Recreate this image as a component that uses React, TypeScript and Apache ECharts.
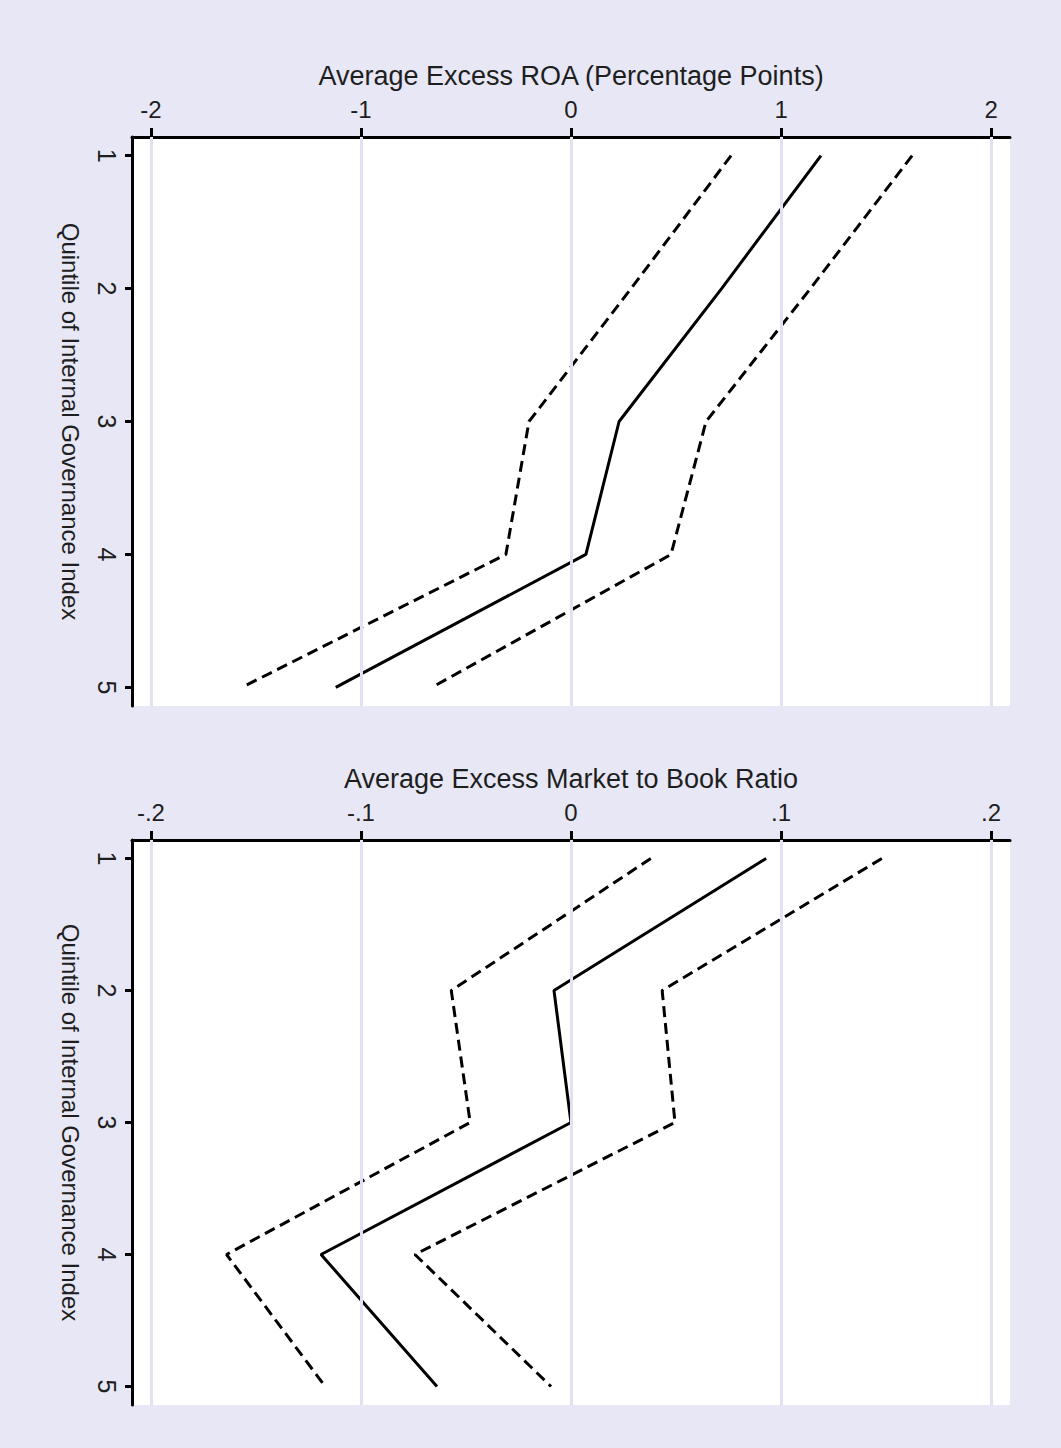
import React, { useEffect, useRef } from "react";
import * as echarts from "echarts";

// ---- data ----
const quintiles = [1, 2, 3, 4, 5];

// Panel 1: Average Excess ROA (percentage points)
const roaEstimate = [1.19, 0.717, 0.229, 0.071, -1.12];
const roaLower = [0.762, 0.286, -0.2, -0.31, -1.567];
const roaUpper = [1.624, 1.14, 0.643, 0.476, -0.662];
const roaTicks = [-2, -1, 0, 1, 2];
const roaTickLabels = ["-2", "-1", "0", "1", "2"];

// Panel 2: Average Excess Market to Book Ratio
const mtbEstimate = [0.0929, -0.0081, 0.0, -0.119, -0.0638];
const mtbLower = [0.038, -0.057, -0.048, -0.164, -0.117];
const mtbUpper = [0.148, 0.0434, 0.0495, -0.0743, -0.0095];
const mtbTicks = [-0.2, -0.1, 0, 0.1, 0.2];
const mtbTickLabels = ["-.2", "-.1", "0", ".1", ".2"];

const yTickLabels = ["1", "2", "3", "4", "5"];

const xTitles = [
  "Average Excess ROA (Percentage Points)",
  "Average Excess Market to Book Ratio",
];
const yTitle = "Quintile of Internal Governance Index";

const FONT = "'Liberation Sans', Arial, Helvetica, sans-serif";
const TEXT = "#1e1e1e";
const BG = "#e7e7f5";
const GRIDLINE = "#e1e1f3";

function pairs(xs: number[]) {
  return xs.map((x, i) => [x, quintiles[i]]);
}

function labelFor(ticks: number[], labels: string[]) {
  return (v: number) => {
    for (let i = 0; i < ticks.length; i++) {
      if (Math.abs(ticks[i] - v) < 1e-9) return labels[i];
    }
    return "";
  };
}

export default function App() {
  const ref = useRef<HTMLDivElement>(null);

  useEffect(() => {
    document.body.style.margin = "0";
    document.body.style.background = BG;
    if (!ref.current) return;
    const chart = echarts.init(ref.current, undefined, { renderer: "svg" });

    const grids = [
      { left: 132, right: 51, top: 137, height: 569 },
      { left: 132, right: 51, top: 840, height: 565 },
    ];
    const panels = [
      {
        ticks: roaTicks,
        labels: roaTickLabels,
        range: 2.09,
        est: roaEstimate,
        lo: roaLower,
        hi: roaUpper,
      },
      {
        ticks: mtbTicks,
        labels: mtbTickLabels,
        range: 0.209,
        est: mtbEstimate,
        lo: mtbLower,
        hi: mtbUpper,
      },
    ];

    const axisLineStyle = { color: "#000", width: 3 };

    const xAxis = panels.map((p, i) => ({
      gridIndex: i,
      type: "value",
      position: "top",
      min: -p.range,
      max: p.range,
      name: xTitles[i],
      nameLocation: "middle",
      nameGap: 48,
      nameTextStyle: { fontSize: 27, color: TEXT, fontFamily: FONT },
      axisLine: { show: true, onZero: false, lineStyle: axisLineStyle },
      axisTick: {
        show: true,
        inside: false,
        length: 9,
        lineStyle: axisLineStyle,
        customValues: p.ticks,
      },
      axisLabel: {
        customValues: p.ticks,
        formatter: labelFor(p.ticks, p.labels),
        fontSize: 24,
        margin: 16,
        color: TEXT,
        fontFamily: FONT,
      },
      splitLine: { show: false },
    }));

    const yAxis = panels.map((_, i) => ({
      gridIndex: i,
      type: "value",
      inverse: true,
      min: 0.86,
      max: 5.14,
      name: yTitle,
      nameLocation: "middle",
      nameRotate: -90,
      nameGap: 50,
      nameTextStyle: { fontSize: 24, color: TEXT, fontFamily: FONT },
      axisLine: { show: true, onZero: false, lineStyle: axisLineStyle },
      axisTick: {
        show: true,
        inside: false,
        length: 7,
        lineStyle: axisLineStyle,
        customValues: quintiles,
      },
      axisLabel: {
        customValues: quintiles,
        formatter: labelFor(quintiles, yTickLabels),
        rotate: -90,
        fontSize: 25,
        margin: 13,
        color: TEXT,
        fontFamily: FONT,
      },
      splitLine: { show: false },
    }));

    const series: any[] = [];
    panels.forEach((p, i) => {
      // vertical grid lines at the tick values
      series.push({
        type: "line",
        xAxisIndex: i,
        yAxisIndex: i,
        data: pairs(p.est),
        symbol: "none",
        lineStyle: { opacity: 0 },
        silent: true,
        z: 1,
        markLine: {
          silent: true,
          symbol: ["none", "none"],
          label: { show: false },
          lineStyle: { color: GRIDLINE, width: 3, type: "solid" },
          data: p.ticks.map((v) => ({ xAxis: v })),
        },
      });
      const lines: [number[], any][] = [
        [p.lo, [11, 6]],
        [p.est, "solid"],
        [p.hi, [11, 6]],
      ];
      lines.forEach(([vals, dash]) => {
        series.push({
          type: "line",
          xAxisIndex: i,
          yAxisIndex: i,
          data: pairs(vals),
          symbol: "none",
          showSymbol: false,
          z: 3,
          lineStyle: { color: "#000", width: 3, type: dash, cap: "butt" },
        });
      });
    });

    chart.setOption({
      animation: false,
      backgroundColor: BG,
      grid: grids.map((g) => ({
        ...g,
        show: true,
        backgroundColor: "#ffffff",
        borderWidth: 0,
        containLabel: false,
      })),
      xAxis,
      yAxis,
      series,
    });

    return () => chart.dispose();
  }, []);

  return <div ref={ref} style={{ width: 1061, height: 1448, background: BG }} />;
}
